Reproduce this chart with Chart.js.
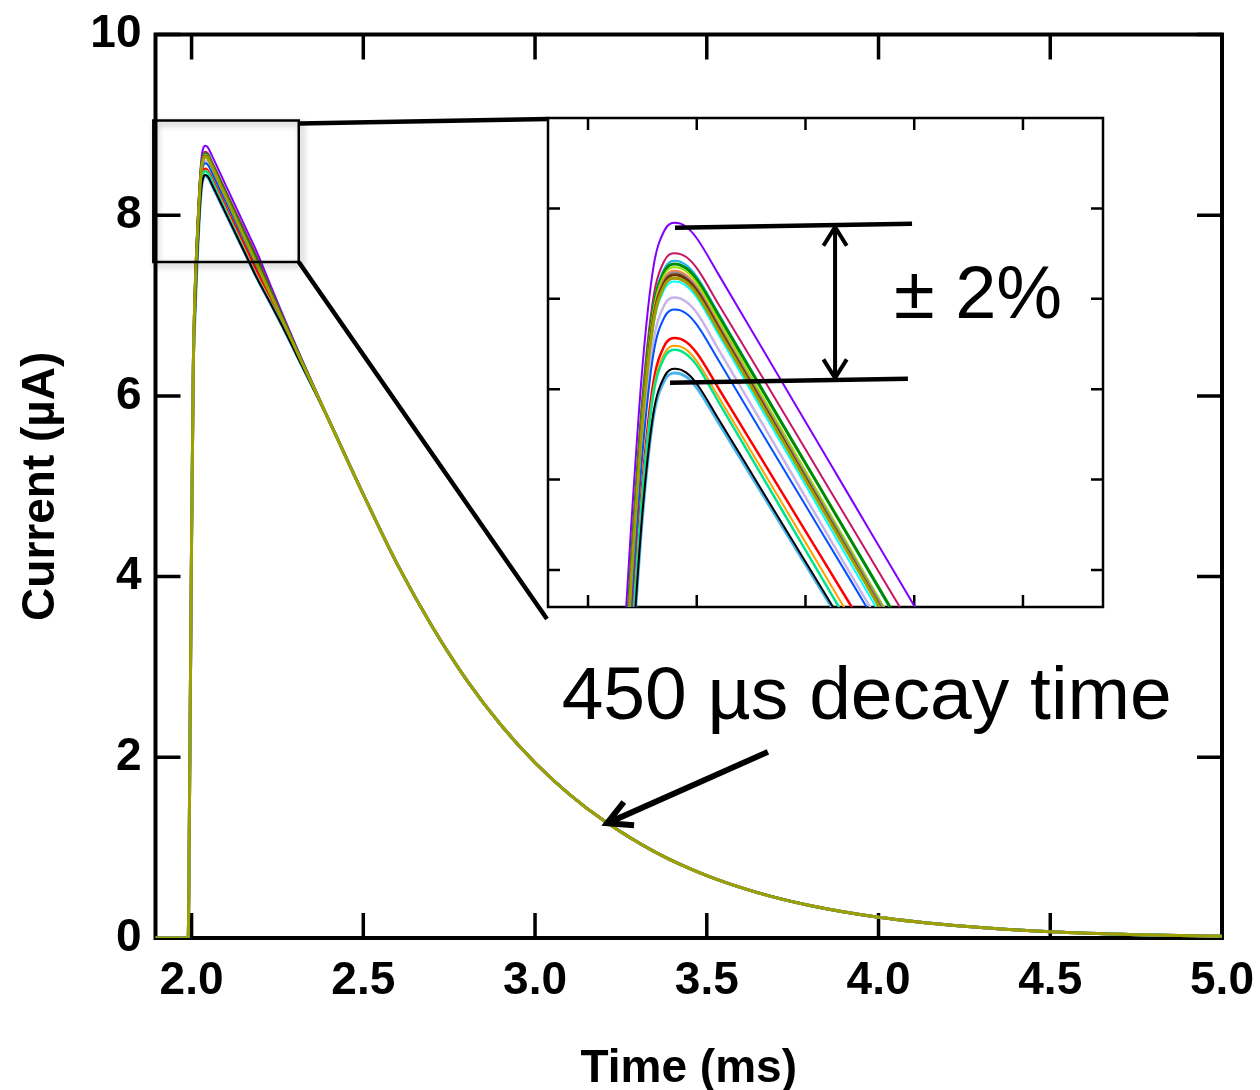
<!DOCTYPE html>
<html>
<head>
<meta charset="utf-8">
<title>Current pulses</title>
<script src="https://cdn.jsdelivr.net/npm/chart.js@4.4.1/dist/chart.umd.min.js"></script>
<style>
  html, body { margin: 0; padding: 0; background: #fff; }
  #wrap { position: relative; width: 1260px; height: 1090px; overflow: hidden; }
  #main { position: absolute; left: 0; top: 0; }
  #inset { position: absolute; }
</style>
</head>
<body>
<div id="wrap">
  <canvas id="main" width="1260" height="1090"></canvas>
  <canvas id="inset"></canvas>
</div>
<script>
// ---- data -------------------------------------------------------------
// sample times (ms) covering the baseline, rise and peak of every pulse
const headTimes = [1.895, 1.99, 1.995, 2.0, 2.005, 2.01, 2.015,
                   2.02, 2.025, 2.03, 2.035, 2.04, 2.045, 2.05, 2.06, 2.08,
                   2.10, 2.12, 2.14, 2.16, 2.19, 2.23, 2.27, 2.32];

// current (µA) of each pulse at headTimes
const pulse01 = [0, 0, 2.0, 4.4, 6.3, 7.218, 7.718, 8.108, 8.448, 8.668, 8.750, 8.768, 8.760, 8.734, 8.654, 8.491, 8.328, 8.165, 8.002, 7.839, 7.595, 7.223, 6.858, 6.415];
const pulse02 = [0, 0, 2.0, 4.4, 6.3, 7.151, 7.651, 8.041, 8.381, 8.601, 8.683, 8.701, 8.693, 8.668, 8.588, 8.428, 8.267, 8.106, 7.945, 7.785, 7.543, 7.187, 6.835, 6.402];
const pulse03 = [0, 0, 2.0, 4.4, 6.3, 7.134, 7.634, 8.024, 8.364, 8.584, 8.666, 8.684, 8.675, 8.649, 8.568, 8.402, 8.237, 8.071, 7.906, 7.740, 7.492, 7.151, 6.812, 6.389];
const pulse04 = [0, 0, 2.0, 4.4, 6.3, 7.127, 7.627, 8.017, 8.357, 8.577, 8.659, 8.677, 8.668, 8.643, 8.563, 8.399, 8.236, 8.073, 7.909, 7.746, 7.501, 7.157, 6.816, 6.392];
const pulse05 = [0, 0, 2.0, 4.4, 6.3, 7.120, 7.620, 8.010, 8.350, 8.570, 8.652, 8.670, 8.661, 8.635, 8.553, 8.386, 8.219, 8.052, 7.885, 7.718, 7.467, 7.133, 6.800, 6.383];
const pulse06 = [0, 0, 2.0, 4.4, 6.3, 7.112, 7.612, 8.002, 8.342, 8.562, 8.644, 8.662, 8.653, 8.627, 8.545, 8.378, 8.211, 8.044, 7.876, 7.709, 7.459, 7.128, 6.797, 6.381];
const pulse07 = [0, 0, 2.0, 4.4, 6.3, 7.108, 7.608, 7.998, 8.338, 8.558, 8.640, 8.658, 8.649, 8.624, 8.542, 8.377, 8.211, 8.046, 7.881, 7.716, 7.468, 7.134, 6.801, 6.383];
const pulse08 = [0, 0, 2.0, 4.4, 6.3, 7.095, 7.595, 7.985, 8.325, 8.545, 8.627, 8.645, 8.636, 8.611, 8.529, 8.364, 8.199, 8.034, 7.868, 7.703, 7.455, 7.125, 6.795, 6.380];
const pulse09 = [0, 0, 2.0, 4.4, 6.3, 7.103, 7.603, 7.993, 8.333, 8.553, 8.635, 8.653, 8.644, 8.618, 8.536, 8.370, 8.203, 8.037, 7.870, 7.704, 7.454, 7.124, 6.795, 6.380];
const pulse10 = [0, 0, 2.0, 4.4, 6.3, 7.088, 7.588, 7.978, 8.318, 8.538, 8.620, 8.638, 8.629, 8.603, 8.521, 8.354, 8.188, 8.021, 7.855, 7.688, 7.438, 7.113, 6.787, 6.376];
const pulse11 = [0, 0, 2.0, 4.4, 6.3, 7.053, 7.553, 7.943, 8.283, 8.503, 8.585, 8.603, 8.594, 8.569, 8.488, 8.325, 8.161, 7.997, 7.834, 7.670, 7.424, 7.103, 6.781, 6.372];
const pulse12 = [0, 0, 2.0, 4.4, 6.3, 7.026, 7.526, 7.916, 8.256, 8.476, 8.558, 8.576, 8.568, 8.543, 8.464, 8.303, 8.143, 7.983, 7.822, 7.662, 7.421, 7.101, 6.780, 6.372];
const pulse13 = [0, 0, 2.0, 4.4, 6.3, 6.963, 7.463, 7.853, 8.193, 8.413, 8.495, 8.513, 8.505, 8.480, 8.402, 8.244, 8.086, 7.928, 7.769, 7.611, 7.374, 7.068, 6.759, 6.360];
const pulse14 = [0, 0, 2.0, 4.4, 6.3, 6.946, 7.446, 7.836, 8.176, 8.396, 8.478, 8.496, 8.488, 8.462, 8.383, 8.222, 8.061, 7.899, 7.738, 7.577, 7.335, 7.041, 6.741, 6.350];
const pulse15 = [0, 0, 2.0, 4.4, 6.3, 6.937, 7.437, 7.827, 8.167, 8.387, 8.469, 8.487, 8.478, 8.453, 8.372, 8.208, 8.044, 7.880, 7.716, 7.552, 7.306, 7.021, 6.728, 6.343];
const pulse16 = [0, 0, 2.0, 4.4, 6.3, 6.886, 7.386, 7.776, 8.116, 8.336, 8.418, 8.436, 8.428, 8.403, 8.326, 8.169, 8.012, 7.855, 7.698, 7.541, 7.306, 7.021, 6.728, 6.343];
const pulse17 = [0, 0, 2.0, 4.4, 6.3, 6.895, 7.395, 7.785, 8.125, 8.345, 8.427, 8.445, 8.437, 8.412, 8.334, 8.176, 8.018, 7.860, 7.701, 7.543, 7.306, 7.021, 6.728, 6.343];
const pulse18 = [0, 0, 2.0, 4.4, 6.3, 7.096, 7.596, 7.986, 8.326, 8.546, 8.628, 8.646, 8.637, 8.611, 8.530, 8.365, 8.199, 8.034, 7.868, 7.703, 7.455, 7.125, 6.795, 6.380];

// the decay tail, common to all pulses (450 µs decay)
const tailTimes   = [2.4, 2.5, 2.6, 2.7, 2.8, 2.9, 3.0, 3.1, 3.2, 3.35, 3.5, 3.65, 3.8, 4.0, 4.25, 4.5, 4.75, 5.0];
const tailCurrent = [5.73, 4.91, 4.13, 3.45, 2.86, 2.36, 1.94, 1.59, 1.30, 0.95, 0.69, 0.50, 0.36, 0.23, 0.13, 0.068, 0.036, 0.02];

const pulseLabels = ['Run 1', 'Run 2', 'Run 3', 'Run 4', 'Run 5', 'Run 6', 'Run 7', 'Run 8', 'Run 9',
                     'Run 10', 'Run 11', 'Run 12', 'Run 13', 'Run 14', 'Run 15', 'Run 16', 'Run 17', 'Run 18'];

// tick values
const timeTicks = [2.0, 2.5, 3.0, 3.5, 4.0, 4.5, 5.0];
const currentTicks = [0, 2, 4, 6, 8, 10];
const insetTimeTicks = [2.0, 2.05, 2.1, 2.15, 2.2];
const insetCurrentTicks = [8.0, 8.2, 8.4, 8.6, 8.8];

// ---- styles -----------------------------------------------------------
const pulseHeads = [pulse01, pulse02, pulse03, pulse04, pulse05, pulse06, pulse07, pulse08, pulse09,
                    pulse10, pulse11, pulse12, pulse13, pulse14, pulse15, pulse16, pulse17, pulse18];
const pulseColors = ['#8000ff', '#c81464', '#18b4f0', '#008c00', '#98e000', '#ff8040', '#8c8c8c', '#ff10b4', '#70300a',
                     '#00ffff', '#c8b4e6', '#0050ff', '#ff0000', '#ffa000', '#00e68c', '#48b4f0', '#000000', '#a0a000'];
const pulseWidths = [2, 2, 2, 3, 2, 2, 2, 2, 3, 2, 2.5, 2, 2.5, 2, 2.5, 3, 2, 3];

const FONT = 'Arial, "Liberation Sans", Helvetica, sans-serif';
const INSET = { left: 548, top: 118, width: 555, height: 489, margin: 12 };

// zoom window marked on the main plot (data units)
const zoomWindow = { t0: 1.8886, t1: 2.3121, i0: 7.482, i1: 9.048 };

Chart.defaults.font.family = FONT;
Chart.defaults.color = '#000';

// later runs are drawn on top of earlier ones
function buildDatasets() {
  const sets = pulseHeads.map((head, k) => ({
    label: pulseLabels[k],
    data: headTimes.map((t, i) => ({ x: t, y: head[i] }))
      .concat(tailTimes.map((t, i) => ({ x: t, y: tailCurrent[i] }))),
    borderColor: pulseColors[k],
    borderWidth: pulseWidths[k],
    pointRadius: 0,
    fill: false,
    cubicInterpolationMode: 'monotone'
  }));
  return sets.reverse();
}

function drawFrame(chart, frameW, tickLen, tickW, xVals, yVals) {
  const { ctx, chartArea: a, scales: { x, y } } = chart;
  ctx.save();
  ctx.strokeStyle = '#000';
  ctx.lineWidth = tickW;
  ctx.beginPath();
  xVals.forEach(v => {
    const px = x.getPixelForValue(v);
    ctx.moveTo(px, a.bottom); ctx.lineTo(px, a.bottom - tickLen);
    ctx.moveTo(px, a.top); ctx.lineTo(px, a.top + tickLen);
  });
  yVals.forEach(v => {
    const py = y.getPixelForValue(v);
    ctx.moveTo(a.left, py); ctx.lineTo(a.left + tickLen, py);
    ctx.moveTo(a.right, py); ctx.lineTo(a.right - tickLen, py);
  });
  ctx.stroke();
  ctx.lineWidth = frameW;
  ctx.strokeRect(a.left, a.top, a.right - a.left, a.bottom - a.top);
  ctx.restore();
}

// open arrow head pointing along `angle` with its tip at (x, y)
function chevron(ctx, x, y, angle, len, spread) {
  const back = angle + Math.PI;
  ctx.moveTo(x + len * Math.cos(back - spread), y + len * Math.sin(back - spread));
  ctx.lineTo(x, y);
  ctx.lineTo(x + len * Math.cos(back + spread), y + len * Math.sin(back + spread));
}

// ---- main plot --------------------------------------------------------
const mainDecor = {
  id: 'mainDecor',
  beforeDatasetsDraw(chart) {
    drawFrame(chart, 4, 25, 3.5, timeTicks, currentTicks);
  },
  afterDatasetsDraw(chart) {
    const { ctx, scales: { x, y } } = chart;
    const bx0 = x.getPixelForValue(zoomWindow.t0), bx1 = x.getPixelForValue(zoomWindow.t1);
    const by0 = y.getPixelForValue(zoomWindow.i1), by1 = y.getPixelForValue(zoomWindow.i0);

    ctx.save();
    // zoom window with a soft shadow
    ctx.shadowColor = 'rgba(0,0,0,0.35)';
    ctx.shadowBlur = 6;
    ctx.shadowOffsetX = 3;
    ctx.shadowOffsetY = 3;
    ctx.strokeStyle = '#000';
    ctx.lineWidth = 2.5;
    ctx.strokeRect(bx0, by0, bx1 - bx0, by1 - by0);
    ctx.restore();

    ctx.save();
    ctx.strokeStyle = '#000';
    ctx.lineWidth = 4.5;
    ctx.lineCap = 'butt';
    ctx.beginPath();
    // leader lines from the window to the magnified view
    ctx.moveTo(bx1, by0 + 3); ctx.lineTo(INSET.left, INSET.top + 1);
    ctx.moveTo(bx1, by1); ctx.lineTo(INSET.left - 1, INSET.top + INSET.height + 12);
    ctx.stroke();

    // decay-time callout
    const ax0 = x.getPixelForValue(3.678), ay0 = y.getPixelForValue(2.06);
    const ax1 = x.getPixelForValue(3.21), ay1 = y.getPixelForValue(1.27);
    ctx.lineWidth = 6;
    ctx.lineJoin = 'miter';
    ctx.beginPath();
    ctx.moveTo(ax0, ay0); ctx.lineTo(ax1, ay1);
    chevron(ctx, ax1, ay1, Math.atan2(ay1 - ay0, ax1 - ax0), 27, 28 * Math.PI / 180);
    ctx.stroke();

    ctx.fillStyle = '#000';
    ctx.font = '75px ' + FONT;
    ctx.textAlign = 'left';
    ctx.textBaseline = 'alphabetic';
    ctx.fillText('450 µs decay time', x.getPixelForValue(3.0774), y.getPixelForValue(2.423));
    ctx.restore();
  }
};

new Chart(document.getElementById('main'), {
  type: 'line',
  data: { datasets: buildDatasets() },
  options: {
    responsive: false,
    devicePixelRatio: 1,
    animation: false,
    events: [],
    layout: { padding: { left: 0, right: 38, top: 34.5, bottom: 0 } },
    plugins: { legend: { display: false }, tooltip: { enabled: false } },
    scales: {
      x: {
        type: 'linear', min: 1.895, max: 5.0,
        grid: { display: false, drawTicks: false },
        border: { display: false },
        afterBuildTicks: s => { s.ticks = timeTicks.map(v => ({ value: v })); },
        afterFit: s => { s.height = 152; s.paddingLeft = 0; s.paddingRight = 0; },
        ticks: {
          font: { size: 46, weight: 'bold' }, color: '#000', padding: 16,
          maxRotation: 0, autoSkip: false,
          callback: v => Number(v).toFixed(1)
        },
        title: {
          display: true, text: 'Time (ms)', color: '#000',
          font: { size: 46, weight: 'bold' }, padding: { top: 0, bottom: -7 }
        }
      },
      y: {
        type: 'linear', min: 0, max: 10,
        grid: { display: false, drawTicks: false },
        border: { display: false },
        afterBuildTicks: s => { s.ticks = currentTicks.map(v => ({ value: v })); },
        afterFit: s => { s.width = 155.5; s.paddingTop = 0; s.paddingBottom = 0; },
        ticks: { font: { size: 46, weight: 'bold' }, color: '#000', padding: 14 },
        title: {
          display: true, text: 'Current (µA)', color: '#000',
          font: { size: 46, weight: 'bold' }, padding: { top: 14, bottom: 0 }
        }
      }
    }
  },
  plugins: [mainDecor]
});

// ---- magnified view of the peaks --------------------------------------
const insetCanvas = document.getElementById('inset');
insetCanvas.width = INSET.width + 2 * INSET.margin;
insetCanvas.height = INSET.height + 2 * INSET.margin;
insetCanvas.style.left = (INSET.left - INSET.margin) + 'px';
insetCanvas.style.top = (INSET.top - INSET.margin) + 'px';

// ±2% spread markers (inset data units)
const spreadTop = { t0: 2.040, i0: 8.757, t1: 2.149, i1: 8.766 };
const spreadBottom = { t0: 2.0377, i0: 8.414, t1: 2.1471, i1: 8.423 };
const spreadArrowTime = 2.1136;

const insetDecor = {
  id: 'insetDecor',
  beforeDraw(chart) {
    const { ctx, chartArea: a } = chart;
    ctx.save();
    ctx.fillStyle = '#fff';
    ctx.fillRect(a.left, a.top, a.right - a.left, a.bottom - a.top);
    ctx.restore();
  },
  beforeDatasetsDraw(chart) {
    drawFrame(chart, 2.5, 12, 2.5, insetTimeTicks, insetCurrentTicks);
  },
  afterDatasetsDraw(chart) {
    const { ctx, scales: { x, y } } = chart;
    const line = s => [x.getPixelForValue(s.t0), y.getPixelForValue(s.i0), x.getPixelForValue(s.t1), y.getPixelForValue(s.i1)];
    const at = (s, px) => {
      const [x0, y0, x1, y1] = line(s);
      return y0 + (y1 - y0) * (px - x0) / (x1 - x0);
    };
    ctx.save();
    ctx.strokeStyle = '#000';
    ctx.lineWidth = 4.5;
    ctx.beginPath();
    [spreadTop, spreadBottom].forEach(s => {
      const [x0, y0, x1, y1] = line(s);
      ctx.moveTo(x0, y0); ctx.lineTo(x1, y1);
    });
    ctx.stroke();

    const ax = x.getPixelForValue(spreadArrowTime);
    const yTop = at(spreadTop, ax) + 2, yBot = at(spreadBottom, ax) - 2;
    ctx.lineWidth = 4;
    ctx.beginPath();
    ctx.moveTo(ax, yTop); ctx.lineTo(ax, yBot);
    chevron(ctx, ax, yTop, -Math.PI / 2, 22, 32 * Math.PI / 180);
    chevron(ctx, ax, yBot, Math.PI / 2, 22, 32 * Math.PI / 180);
    ctx.stroke();

    ctx.fillStyle = '#000';
    ctx.font = '74px ' + FONT;
    ctx.textAlign = 'left';
    ctx.textBaseline = 'alphabetic';
    ctx.fillText('± 2%', x.getPixelForValue(2.1407), y.getPixelForValue(8.558));
    ctx.restore();
  }
};

new Chart(insetCanvas, {
  type: 'line',
  data: { datasets: buildDatasets() },
  options: {
    responsive: false,
    devicePixelRatio: 1,
    animation: false,
    events: [],
    layout: { padding: INSET.margin },
    plugins: { legend: { display: false }, tooltip: { enabled: false } },
    scales: {
      x: { type: 'linear', min: 1.9816, max: 2.2368, display: false },
      y: { type: 'linear', min: 7.918, max: 9.0, display: false }
    }
  },
  plugins: [insetDecor]
});
</script>
</body>
</html>
